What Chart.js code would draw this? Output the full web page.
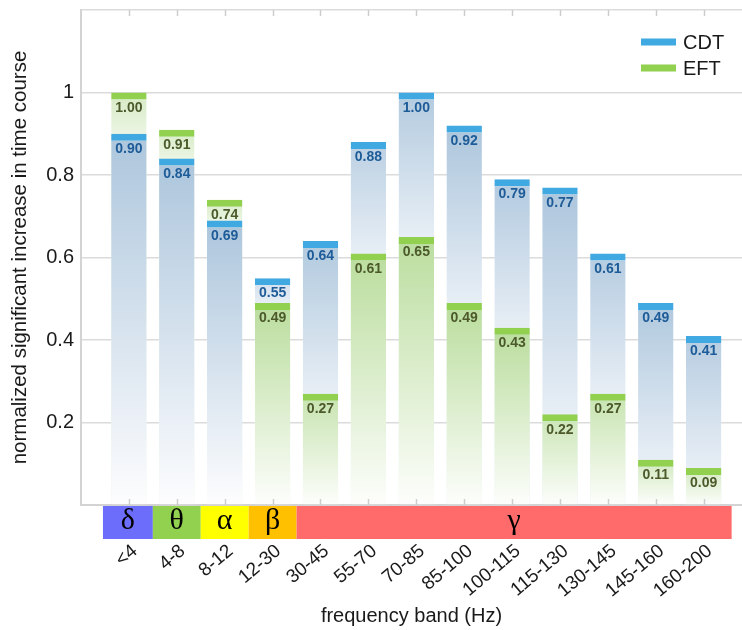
<!DOCTYPE html>
<html>
<head>
<meta charset="utf-8">
<title>Normalized significant increase per frequency band</title>
<script src="https://cdn.jsdelivr.net/npm/chart.js@4.4.1/dist/chart.umd.min.js"></script>
<style>
  html, body { margin: 0; padding: 0; background: #ffffff; }
  #wrap { width: 742px; height: 630px; }
</style>
</head>
<body>
<div id="wrap"><canvas id="chart" width="742" height="630"></canvas></div>
<script>
// ---- data ----
const bands = ['<4', '4-8', '8-12', '12-30', '30-45', '55-70', '70-85', '85-100',
               '100-115', '115-130', '130-145', '145-160', '160-200'];
const cdt = [0.90, 0.84, 0.69, 0.55, 0.64, 0.88, 1.00, 0.92, 0.79, 0.77, 0.61, 0.49, 0.41];
const eft = [1.00, 0.91, 0.74, 0.49, 0.27, 0.61, 0.65, 0.49, 0.43, 0.22, 0.27, 0.11, 0.09];
const seriesNames = ['CDT', 'EFT'];
const yTicks = [0.2, 0.4, 0.6, 0.8, 1];
// EEG rhythms and the first/last band index each one covers
const rhythms = ['δ', 'θ', 'α', 'β', 'γ'];
const rhythmFirst = [0, 1, 2, 3, 4];
const rhythmLast = [0, 1, 2, 3, 12];

// ---- styles ----
const FONT = "'Liberation Sans', Arial, Helvetica, sans-serif";
const TEXT = '#1a1a1a';
const CAP = 7;
const style = [
  { cap: '#41a9e1', fill: [174, 199, 221], label: '#1d5c98' },
  { cap: '#92d050', fill: [188, 222, 160], label: '#4c5a2b' }
];
const rhythmColors = ['#6d6dfb', '#92d050', '#ffff00', '#ffc000', '#ff6b6b'];
const values = [cdt, eft];

Chart.defaults.font.family = FONT;
Chart.defaults.color = TEXT;

function mix(rgb, t) {
  const c = rgb.map(v => Math.round(255 + (v - 255) * t));
  return 'rgb(' + c.join(',') + ')';
}

// Each bar fades toward white down to where the other series' bar begins to cover it.
function barFill(d) {
  return ctx => {
    const chart = ctx.chart;
    const col = style[d].fill;
    if (!chart.chartArea || ctx.type !== 'data') return mix(col, 1);
    const i = ctx.dataIndex;
    const v = values[d][i], o = values[1 - d][i];
    const behind = v > o;
    const ys = chart.scales.y;
    const top = ys.getPixelForValue(v) + CAP;
    const base = ys.getPixelForValue(behind ? o : 0);
    const len = Math.max(1, base - top);
    const g = chart.ctx.createLinearGradient(0, top, 0, base);
    g.addColorStop(0, mix(col, Math.min(1, 0.45 + len / 300)));
    g.addColorStop(1, mix(col, behind ? 0.3 : 0.03));
    return g;
  };
}

function makeDataset(d) {
  return {
    label: seriesNames[d],
    data: bands.map((b, i) => ({ x: i, y: values[d][i] })),
    backgroundColor: barFill(d),
    borderColor: style[d].cap,
    borderWidth: { top: CAP, left: 0, right: 0, bottom: 0 },
    borderSkipped: 'start',
    grouped: false,
    categoryPercentage: 1,
    barPercentage: 0.74
  };
}

// shorter bar of each pair is drawn in front of the taller one
const layering = {
  id: 'layering',
  beforeDatasetsDraw(chart) {
    const ctx = chart.ctx;
    const metas = [0, 1].map(d => chart.getDatasetMeta(d));
    bands.forEach((b, i) => {
      const order = values[0][i] >= values[1][i] ? [0, 1] : [1, 0];
      order.forEach(d => metas[d].data[i].draw(ctx));
    });
    return false;
  }
};

const decorations = {
  id: 'decorations',
  afterDraw(chart) {
    const ctx = chart.ctx;
    const area = chart.chartArea;
    const xs = chart.scales.x;
    ctx.save();

    // inward tick marks on top and bottom frame
    ctx.strokeStyle = '#cdcdcd';
    ctx.lineWidth = 1.5;
    bands.forEach((b, i) => {
      const x = Math.round(xs.getPixelForValue(i)) + 0.5;
      ctx.beginPath();
      ctx.moveTo(x, area.top); ctx.lineTo(x, area.top + 6);
      ctx.moveTo(x, area.bottom); ctx.lineTo(x, area.bottom - 6);
      ctx.stroke();
    });

    // value labels under each bar cap
    ctx.font = 'bold 14px ' + FONT;
    ctx.textAlign = 'center';
    ctx.textBaseline = 'middle';
    [0, 1].forEach(d => {
      chart.getDatasetMeta(d).data.forEach((el, i) => {
        ctx.fillStyle = style[d].label;
        ctx.fillText(values[d][i].toFixed(2), el.x, el.y + CAP + 8.5);
      });
    });

    // rhythm strip under the axis
    const y0 = area.bottom + 1, h = 33;
    rhythms.forEach((r, k) => {
      let x0 = xs.getPixelForValue(rhythmFirst[k] - 0.5);
      let x1 = xs.getPixelForValue(rhythmLast[k] + 0.5);
      if (k === 0) x0 -= 2;
      if (k === rhythms.length - 1) x1 += 4;
      ctx.fillStyle = rhythmColors[k];
      ctx.fillRect(x0, y0, x1 - x0, h);
      ctx.fillStyle = '#000000';
      ctx.font = "30px 'Liberation Serif', 'Times New Roman', serif";
      ctx.textAlign = 'center';
      ctx.textBaseline = 'middle';
      ctx.fillText(r, (x0 + x1) / 2, y0 + h / 2 - 1);
    });

    // legend
    ctx.font = '20px ' + FONT;
    ctx.textAlign = 'left';
    ctx.textBaseline = 'middle';
    const lx = area.right - 101;
    [0, 1].forEach(d => {
      const cy = area.top + 32 + d * 26;
      ctx.fillStyle = style[d].cap;
      ctx.fillRect(lx, cy - 3.5, 35, 7);
      ctx.fillStyle = TEXT;
      ctx.fillText(seriesNames[d], lx + 42, cy + 1);
    });
    ctx.restore();
  }
};

new Chart(document.getElementById('chart'), {
  type: 'bar',
  data: { datasets: [makeDataset(0), makeDataset(1)] },
  options: {
    responsive: false,
    animation: false,
    devicePixelRatio: 1,
    layout: { padding: { top: 10, right: 0, bottom: 0, left: 0 } },
    plugins: { legend: { display: false }, tooltip: { enabled: false } },
    scales: {
      x: {
        type: 'linear',
        offset: false,
        min: -1,
        max: 12.8,
        z: 1,
        afterBuildTicks: s => { s.ticks = bands.map((b, i) => ({ value: i })); },
        afterFit: s => { s.height = 125; s.paddingLeft = 0; s.paddingRight = 0; },
        ticks: {
          autoSkip: false,
          minRotation: 40,
          maxRotation: 40,
          padding: 35,
          labelOffset: 6,
          font: { size: 19 },
          color: TEXT,
          callback: v => bands[v]
        },
        grid: { display: false, drawTicks: false },
        border: { display: true, color: '#d3d3d3', width: 2 },
        title: {
          display: true,
          text: 'frequency band (Hz)',
          font: { size: 20 },
          color: TEXT,
          padding: { top: 0, bottom: 2 }
        }
      },
      y: {
        min: 0,
        max: 1.2,
        z: 1,
        afterBuildTicks: s => { s.ticks = [0].concat(yTicks, [1.2]).map(v => ({ value: v })); },
        afterFit: s => { s.width = 81; s.paddingTop = 0; s.paddingBottom = 0; },
        ticks: {
          padding: 7,
          font: { size: 20 },
          color: TEXT,
          callback: v => (yTicks.includes(v) ? String(v) : '')
        },
        grid: { color: 'rgba(0,0,0,0.14)', lineWidth: 1.5, drawTicks: false },
        border: { display: true, color: '#d3d3d3', width: 2 },
        title: {
          display: true,
          text: 'normalized significant increase in time course',
          font: { size: 20.5 },
          color: TEXT,
          padding: { top: 8, bottom: 0 }
        }
      }
    }
  },
  plugins: [layering, decorations]
});
</script>
</body>
</html>
